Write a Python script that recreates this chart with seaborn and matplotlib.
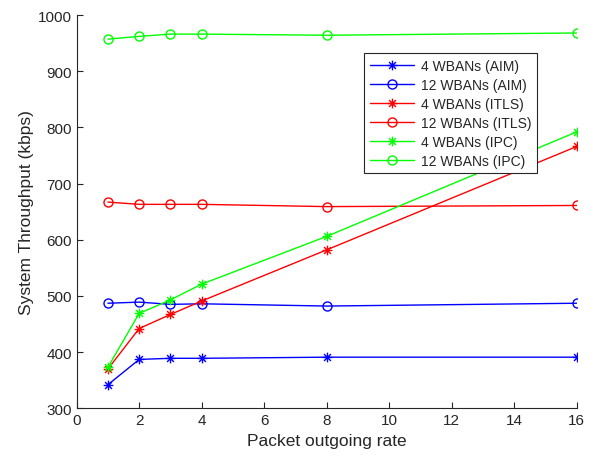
import numpy as np
import pandas as pd
import matplotlib
matplotlib.use("Agg")
import matplotlib.pyplot as plt
from matplotlib.path import Path
import seaborn as sns

# Packet outgoing rates
rates = [1, 2, 3, 4, 8, 16]

# System throughput (kbps) per scheme and network size
aim_4 = [342, 387, 389, 389, 391, 391]
aim_12 = [487, 489, 485, 486, 482, 487]
itls_4 = [370, 442, 467, 491, 582, 766]
itls_12 = [667, 663, 663, 663, 659, 661]
ipc_4 = [373, 469, 493, 521, 606, 792]
ipc_12 = [957, 962, 966, 966, 964, 968]

labels = ["4 WBANs (AIM)", "12 WBANs (AIM)", "4 WBANs (ITLS)",
          "12 WBANs (ITLS)", "4 WBANs (IPC)", "12 WBANs (IPC)"]
series = [aim_4, aim_12, itls_4, itls_12, ipc_4, ipc_12]
colors = ["#0000ff", "#0000ff", "#ff0000", "#ff0000", "#00ff00", "#00ff00"]

# Asterisk marker: a plus overlaid with a cross (eight arms)
d = np.sqrt(0.5)
asterisk = Path(
    [(-1, 0), (1, 0), (0, -1), (0, 1), (-d, -d), (d, d), (-d, d), (d, -d)],
    [Path.MOVETO, Path.LINETO] * 4,
)
markers = [asterisk, "o", asterisk, "o", asterisk, "o"]

df = pd.concat(
    [pd.DataFrame({"rate": rates, "throughput": s, "series": lab})
     for lab, s in zip(labels, series)],
    ignore_index=True,
)

sns.set_style("ticks")
plt.rcParams["font.family"] = ["Liberation Sans", "DejaVu Sans"]
ink = "#262626"

fig = plt.figure(figsize=(5.93, 4.60), dpi=100)
ax = fig.add_axes([0.1293, 0.1102, 0.8432, 0.8550])

for lab, col, mk in zip(labels, colors, markers):
    sub = df[df["series"] == lab]
    sns.lineplot(
        data=sub, x="rate", y="throughput", ax=ax, color=col, label=lab,
        marker=mk, markersize=7 if mk is asterisk else 6.5,
        markerfacecolor="none", markeredgecolor=col, markeredgewidth=1.0,
        linewidth=1.0,
    )

ax.set_xlim(0, 16)
ax.set_ylim(300, 1000)
ax.set_xticks(np.arange(0, 17, 2))
ax.set_yticks(np.arange(300, 1001, 100))
ax.set_xlabel("Packet outgoing rate", fontsize=12.5, color=ink)
ax.set_ylabel("System Throughput (kbps)", fontsize=12.5, color=ink,
              labelpad=2.5)
ax.tick_params(direction="in", length=4, width=0.8, colors=ink,
               labelsize=11, labelcolor=ink)
for side in ["top", "right"]:
    ax.spines[side].set_visible(False)
for side in ["left", "bottom"]:
    ax.spines[side].set_color(ink)
    ax.spines[side].set_linewidth(0.8)

leg = ax.legend(
    loc="upper left", bbox_to_anchor=(364 / 593, 1 - 54 / 460),
    bbox_transform=fig.transFigure, fontsize=10, frameon=True,
    fancybox=False, framealpha=1, edgecolor=ink, handlelength=3.2,
    labelspacing=0.36, borderpad=0.4, handletextpad=0.5, borderaxespad=0,
)
leg.get_frame().set_linewidth(0.8)
for t in leg.get_texts():
    t.set_color(ink)

fig.savefig("out.png", dpi=100)
